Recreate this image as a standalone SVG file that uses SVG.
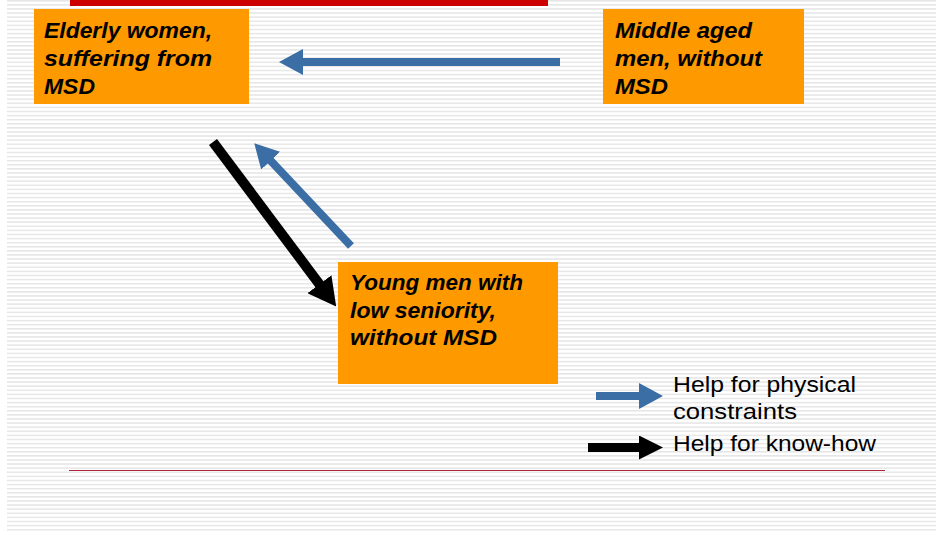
<svg xmlns="http://www.w3.org/2000/svg" width="936" height="533" viewBox="0 0 936 533">
<defs>
<pattern id="stripes" x="0" y="0" width="936" height="4.1" patternUnits="userSpaceOnUse">
<rect x="0" y="0" width="936" height="1.5" fill="#e6e6e6"/>
</pattern>
<marker id="headBlue" viewBox="0 0 24 26" refX="1" refY="13" markerWidth="24" markerHeight="26" markerUnits="userSpaceOnUse" orient="auto">
<path d="M0,0 L24,13 L0,26 z" fill="#3b6ea5"/>
</marker>
<marker id="headBlack" viewBox="0 0 28 30" refX="1" refY="15" markerWidth="28" markerHeight="30" markerUnits="userSpaceOnUse" orient="auto">
<path d="M0,0 L28,15 L0,30 z" fill="#000"/>
</marker>
<marker id="headBlackSm" viewBox="0 0 24 24" refX="1" refY="12" markerWidth="24" markerHeight="24" markerUnits="userSpaceOnUse" orient="auto">
<path d="M0,0 L24,12 L0,24 z" fill="#000"/>
</marker>
</defs>
<style>
.box{fill:#ff9900;}
.bt{font-family:"Comic Sans MS","Liberation Sans","DejaVu Sans",sans-serif;font-size:22px;font-weight:bold;font-style:italic;fill:#000;}
.lt{font-family:"Comic Sans MS","Liberation Sans","DejaVu Sans",sans-serif;font-size:22px;fill:#000;}
.blue{stroke:#3b6ea5;stroke-width:8;fill:none;}
.black{stroke:#000;stroke-width:10;fill:none;}
</style>
<rect x="0" y="0" width="936" height="533" fill="#ffffff"/>
<rect x="7" y="0" width="929" height="533" fill="url(#stripes)"/>
<rect x="70" y="0" width="478" height="6" fill="#cc0000"/>
<line x1="69" y1="470.5" x2="885" y2="470.5" stroke="#b0283c" stroke-width="1.2"/>

<g id="node-elderly">
<rect class="box" x="34" y="9" width="215" height="95"/>
<text class="bt" x="44" y="38" textLength="168" lengthAdjust="spacingAndGlyphs">Elderly women,</text>
<text class="bt" x="44" y="66" textLength="168" lengthAdjust="spacingAndGlyphs">suffering from</text>
<text class="bt" x="44" y="94" textLength="51" lengthAdjust="spacingAndGlyphs">MSD</text>
</g>

<g id="node-middle">
<rect class="box" x="603" y="9" width="201" height="95"/>
<text class="bt" x="615" y="38" textLength="137" lengthAdjust="spacingAndGlyphs">Middle aged</text>
<text class="bt" x="615" y="66" textLength="147" lengthAdjust="spacingAndGlyphs">men, without</text>
<text class="bt" x="615" y="94" textLength="53" lengthAdjust="spacingAndGlyphs">MSD</text>
</g>

<g id="node-young">
<rect class="box" x="338" y="262" width="220" height="122"/>
<text class="bt" x="350" y="290" textLength="173" lengthAdjust="spacingAndGlyphs">Young men with</text>
<text class="bt" x="350" y="318" textLength="146" lengthAdjust="spacingAndGlyphs">low seniority,</text>
<text class="bt" x="350" y="345" textLength="147" lengthAdjust="spacingAndGlyphs">without MSD</text>
</g>

<g id="connectors">
<line class="blue" x1="560" y1="62" x2="302" y2="62" marker-end="url(#headBlue)"/>
<line class="black" x1="213" y1="142" x2="320" y2="285" marker-end="url(#headBlack)"/>
<line class="blue" x1="351" y1="246" x2="270" y2="160" marker-end="url(#headBlue)"/>
</g>

<g id="legend">
<line class="blue" x1="596" y1="396" x2="640" y2="396" marker-end="url(#headBlue)"/>
<line stroke="#000" stroke-width="9" x1="588" y1="447.5" x2="640" y2="447.5" marker-end="url(#headBlackSm)"/>
<text class="lt" x="673" y="392" textLength="183" lengthAdjust="spacingAndGlyphs">Help for physical</text>
<text class="lt" x="673" y="419" textLength="124" lengthAdjust="spacingAndGlyphs">constraints</text>
<text class="lt" x="673" y="451" textLength="203" lengthAdjust="spacingAndGlyphs">Help for know-how</text>
</g>
</svg>
